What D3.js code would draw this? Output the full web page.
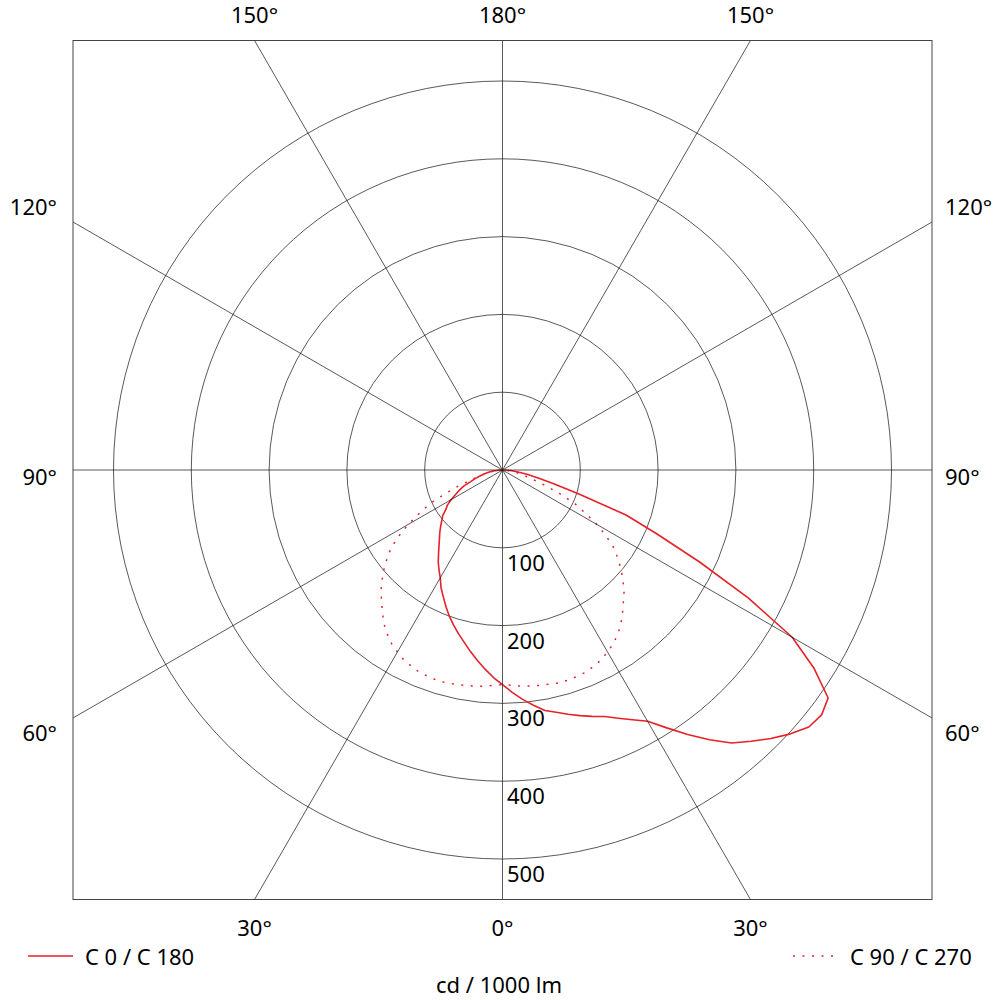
<!DOCTYPE html>
<html>
<head>
<meta charset="UTF-8">
<script src="https://d3js.org/d3.v7.min.js"></script>
<style>
  body { margin: 0; background: #fff; }
  text { font-family: "Noto Sans", "Open Sans", sans-serif; font-size: 22px; fill: #000; }
</style>
</head>
<body>
<svg id="chart" width="1000" height="1000"></svg>
<script>
// gamma angles in degrees, 0 = straight down
const gammas = [0, 2.5, 5, 7.5, 10, 12.5, 15, 17.5, 20, 22.5, 25, 27.5, 30, 32.5, 35, 37.5, 40, 42.5, 45,
                47.5, 50, 52.5, 55, 57.5, 60, 62.5, 65, 67.5, 70, 72.5, 75, 77.5, 80, 82.5, 85, 87.5, 90];
// cd / 1000 lm
const c0   = [276, 286, 296, 305, 314, 319, 325, 331, 337, 343, 352, 362, 373, 393, 415, 437, 458, 473, 488,
              502, 514, 517, 511, 475, 430, 356, 279, 215, 169, 103, 69, 47, 32, 20, 12, 6, 2];
const c180 = [276, 267, 257, 247, 237, 227, 218, 209, 200, 190, 180, 171, 160, 152, 144, 135, 127, 120, 114,
              108, 102, 97, 89, 84, 76, 68, 61, 54, 43, 37, 30, 25, 20, 15, 10, 5, 2];
const c90  = [276, 277, 279, 280, 281, 282, 283, 283, 282, 281, 278, 275, 270, 265, 258, 250, 240, 230, 221,
              210, 199, 187, 175, 158, 140, 120, 103, 80, 60, 42, 32, 24, 18, 12, 7, 3, 0];
const c270 = [276, 277, 279, 280, 281, 282, 283, 283, 282, 281, 278, 275, 270, 265, 258, 250, 240, 230, 221,
              210, 199, 187, 175, 158, 140, 120, 103, 80, 60, 42, 32, 24, 18, 12, 7, 3, 0];

const ringValues = [100, 200, 300, 400, 500];
const angleTicks = [0, 30, 60, 90, 120, 150, 180];
const legendLabels = ["C 0 / C 180", "C 90 / C 270"];
const unitLabel = "cd / 1000 lm";

const red = "#e52228";
const cx = 502.5, cy = 470, half = 429.5;
const svg = d3.select("#chart");

const r = d3.scaleLinear().domain([0, 500]).range([0, 389]);
const rad = d => d * Math.PI / 180;

svg.append("clipPath").attr("id", "box")
  .append("rect").attr("x", cx - half).attr("y", cy - half)
  .attr("width", half * 2).attr("height", half * 2);

const g = svg.append("g").attr("transform", "translate(" + cx + "," + cy + ")");

// rings
g.selectAll("circle.ring").data(ringValues).enter().append("circle")
  .attr("class", "ring")
  .attr("r", d => r(d))
  .attr("fill", "none").attr("stroke", "#111").attr("stroke-width", 0.7);

// radial lines, both sides
const spokes = [];
angleTicks.forEach(a => { spokes.push(a); if (a > 0 && a < 180) spokes.push(-a); });
svg.append("g").attr("clip-path", "url(#box)")
  .selectAll("line").data(spokes).enter().append("line")
  .attr("x1", cx).attr("y1", cy)
  .attr("x2", d => cx + 900 * Math.sin(rad(d)))
  .attr("y2", d => cy + 900 * Math.cos(rad(d)))
  .attr("stroke", "#111").attr("stroke-width", 0.7);

// box
svg.append("rect").attr("x", cx - half).attr("y", cy - half)
  .attr("width", half * 2).attr("height", half * 2)
  .attr("fill", "none").attr("stroke", "#444").attr("stroke-width", 1);

// ring labels
g.selectAll("text.rl").data(ringValues).enter().append("text")
  .attr("class", "rl")
  .attr("x", 4.5).attr("y", d => r(d) + 23)
  .text(d => d);

// angle labels
spokes.forEach(a => {
  const ab = Math.abs(a);
  const s = Math.sign(a) || 1;
  let x, y, anchor = "middle";
  if (ab <= 30) {
    x = cx + s * half * Math.tan(rad(ab)); y = 936;
  } else if (ab >= 150) {
    x = cx + s * half * Math.tan(rad(180 - ab)); y = 23;
  } else {
    x = s > 0 ? 945 : 57;
    anchor = s > 0 ? "start" : "end";
    y = cy + 455 / Math.tan(rad(ab)) + 8 + (ab === 90 ? 7 : 0);
  }
  svg.append("text").attr("x", x).attr("y", y)
    .attr("text-anchor", anchor).text(ab + "°");
});

// curves
const line = d3.lineRadial().angle(d => d.a).radius(d => r(d.v));
function halves(left, right) {
  const pts = [];
  for (let i = gammas.length - 1; i >= 0; i--) pts.push({ a: Math.PI + rad(gammas[i]), v: left[i] });
  for (let i = 1; i < gammas.length; i++) pts.push({ a: Math.PI - rad(gammas[i]), v: right[i] });
  return pts;
}

g.append("path").datum(halves(c270, c90))
  .attr("d", line)
  .attr("fill", "none").attr("stroke", red).attr("stroke-width", 1.5)
  .attr("stroke-dasharray", "2,7.5");

g.append("path").datum(halves(c180, c0))
  .attr("d", line)
  .attr("fill", "none").attr("stroke", red).attr("stroke-width", 1.6)
  .attr("stroke-linejoin", "round");

// legend
svg.append("line").attr("x1", 28).attr("x2", 73).attr("y1", 956).attr("y2", 956)
  .attr("stroke", red).attr("stroke-width", 1.6);
svg.append("text").attr("x", 85).attr("y", 965).text(legendLabels[0]);

svg.append("line").attr("x1", 793).attr("x2", 838).attr("y1", 956).attr("y2", 956)
  .attr("stroke", red).attr("stroke-width", 1.6).attr("stroke-dasharray", "2,7.5");
svg.append("text").attr("x", 850).attr("y", 965).text(legendLabels[1]);

svg.append("text").attr("x", 499).attr("y", 993).attr("text-anchor", "middle").text(unitLabel);
</script>
</body>
</html>
